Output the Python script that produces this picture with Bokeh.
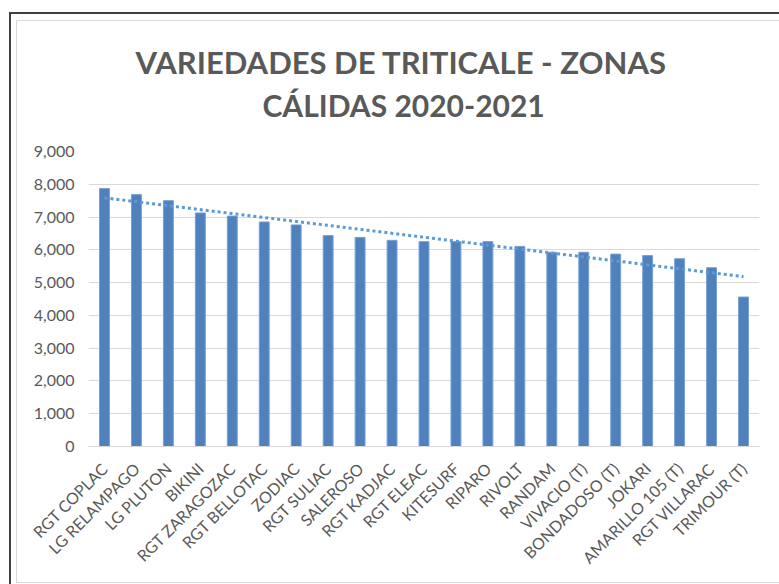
import numpy as np
from math import pi
from bokeh.plotting import figure
from bokeh.models import ColumnDataSource, Title, NumeralTickFormatter, FixedTicker, InlineStyleSheet
from bokeh.embed import file_html
from bokeh.resources import INLINE

categories = ["RGT COPLAC", "LG RELAMPAGO", "LG PLUTON", "BIKINI", "RGT ZARAGOZAC",
              "RGT BELLOTAC", "ZODIAC", "RGT SULIAC", "SALEROSO", "RGT KADJAC",
              "RGT ELEAC", "KITESURF", "RIPARO", "RIVOLT", "RANDAM", "VIVACIO (T)",
              "BONDADOSO (T)", "JOKARI", "AMARILLO 105 (T)", "RGT VILLARAC", "TRIMOUR (T)"]
yields = [7870, 7685, 7500, 7125, 7030, 6850, 6760, 6435, 6380, 6290,
          6250, 6250, 6250, 6105, 5925, 5925, 5870, 5825, 5730, 5455, 4560]
y_ticks = [0, 1000, 2000, 3000, 4000, 5000, 6000, 7000, 8000, 9000]
title_lines = ["VARIEDADES DE TRITICALE - ZONAS", "CÁLIDAS 2020-2021"]

FONT = "Lato"
GRAY = "#595959"

border_css = InlineStyleSheet(css="""
:host { position: relative; }
:host::before { content: ""; position: absolute; left: 9px; top: 12px; width: 900px; height: 900px;
  border-left: 2px solid #404040; border-top: 2px solid #404040; pointer-events: none; z-index: 10; }
:host::after { content: ""; position: absolute; left: 16px; top: 20px; width: 900px; height: 561px;
  border: 1.5px solid #D9D9D9; pointer-events: none; z-index: 10; }
""")

p = figure(x_range=categories, y_range=(0, 9000), width=779, height=584,
           output_backend="svg", toolbar_location=None,
           min_border_left=88, min_border_right=20, min_border_top=151, min_border_bottom=138,
           background_fill_color="white", border_fill_color="white",
           stylesheets=[border_css])
p.outline_line_color = None

src = ColumnDataSource(dict(cat=categories, val=yields))
p.vbar(x="cat", top="val", width=0.31, source=src, fill_color="#4F81BD",
       line_color="#7A9FD0", line_width=1)

# linear trendline (least squares over the bar values)
idx = np.arange(len(yields))
a, b = np.polyfit(idx, yields, 1)
trend_x = [categories[0], categories[-1]]
trend_y = [b, a * (len(yields) - 1) + b]
p.line(x=trend_x, y=trend_y, line_color="#5B9BD5", line_width=3, line_dash="3 3")

# titles: spacer next to the plot, then line 2, then line 1
p.add_layout(Title(text=" ", align="left", text_font=FONT, text_font_size="10px",
                   text_color="white", standoff=12), "above")
p.add_layout(Title(text=title_lines[1], align="left", text_font=FONT,
                   text_font_size="30px", text_font_style="bold", text_color=GRAY,
                   standoff=5, offset=174), "above")
p.add_layout(Title(text=title_lines[0], align="left", text_font=FONT,
                   text_font_size="31px", text_font_style="bold", text_color=GRAY,
                   standoff=3, offset=47), "above")

# axes
p.yaxis.ticker = FixedTicker(ticks=y_ticks)
p.yaxis.formatter = NumeralTickFormatter(format="0,0")
p.yaxis.axis_line_color = None
p.yaxis.major_tick_line_color = None
p.yaxis.minor_tick_line_color = None
p.yaxis.major_label_text_font = FONT
p.yaxis.major_label_text_font_size = "16px"
p.yaxis.major_label_text_color = GRAY
p.yaxis.major_label_standoff = 8

p.xaxis.axis_line_color = "#D9D9D9"
p.xaxis.axis_line_width = 1
p.xaxis.major_tick_line_color = None
p.xaxis.minor_tick_line_color = None
p.xaxis.major_label_orientation = pi / 4
p.xaxis.major_label_text_font = FONT
p.xaxis.major_label_text_font_size = "16px"
p.xaxis.major_label_text_color = GRAY
p.xaxis.major_label_standoff = 13

p.xgrid.grid_line_color = None
p.ygrid.grid_line_color = "#D9D9D9"
p.ygrid.grid_line_width = 1

open("out.html", "w").write(file_html(p, INLINE))
